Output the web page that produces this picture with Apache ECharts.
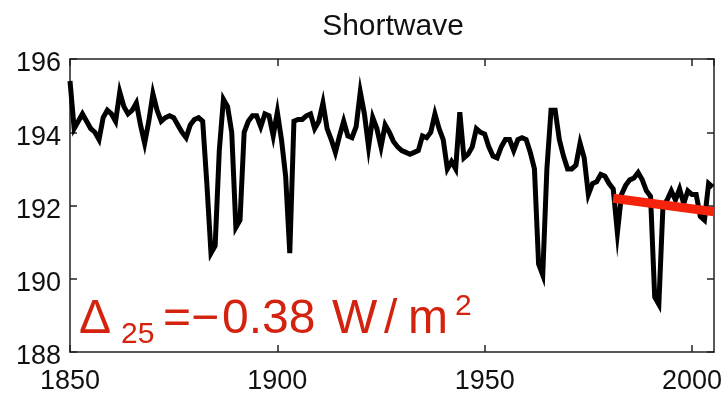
<!DOCTYPE html>
<html>
<head>
<meta charset="utf-8">
<script src="https://cdn.jsdelivr.net/npm/echarts@6/dist/echarts.min.js"></script>
<style>
html,body{margin:0;padding:0;background:#fff;}
#chart{width:727px;height:403px;}
</style>
</head>
<body>
<div id="chart"></div>
<script>
// Years 1850..2005
const startYear = 1850;
const shortwave = [
  195.4, 194.1, 194.3, 194.5, 194.3, 194.1, 194.0, 193.8, 194.4, 194.6, // 1850-1859
  194.5, 194.3, 195.1, 194.7, 194.5, 194.6, 194.8, 194.2, 193.7, 194.3, // 1860-1869
  195.05, 194.6, 194.3, 194.4, 194.45, 194.4, 194.2, 194.0, 193.85, 194.2, // 1870-1879
  194.35, 194.4, 194.3, 192.6, 190.7, 190.9, 193.5, 194.9, 194.7, 194.0, // 1880-1889
  191.4, 191.6, 194.0, 194.3, 194.45, 194.45, 194.15, 194.5, 194.45, 193.9, // 1890-1899
  194.55, 193.8, 192.8, 190.7, 194.3, 194.35, 194.35, 194.45, 194.5, 194.1, // 1900-1909
  194.3, 194.8, 194.1, 193.8, 193.45, 193.9, 194.3, 193.9, 193.85, 194.15, // 1910-1919
  195.1, 194.5, 193.6, 194.4, 194.1, 193.6, 194.2, 194.0, 193.75, 193.6, // 1920-1929
  193.5, 193.45, 193.4, 193.45, 193.5, 193.9, 193.85, 194.0, 194.5, 194.1, // 1930-1939
  193.8, 193.0, 193.2, 193.0, 194.55, 193.3, 193.4, 193.6, 194.1, 194.0, // 1940-1949
  193.95, 193.6, 193.35, 193.3, 193.6, 193.8, 193.8, 193.5, 193.8, 193.85, // 1950-1959
  193.8, 193.45, 193.0, 190.4, 190.1, 193.0, 194.6, 194.6, 193.8, 193.35, // 1960-1969
  193.0, 193.0, 193.1, 193.7, 193.3, 192.3, 192.6, 192.65, 192.85, 192.8, // 1970-1979
  192.6, 192.45, 191.25, 192.3, 192.55, 192.7, 192.75, 192.9, 192.7, 192.4, // 1980-1989
  192.25, 189.5, 189.3, 192.0, 192.15, 192.4, 192.15, 192.45, 192.05, 192.4, // 1990-1999
  192.3, 192.3, 191.7, 191.6, 192.6, 192.5                                   // 2000-2005
];
const trendYears = [1981, 2005.3];
const trendValues = [192.2, 191.83];
const xTicks = [1850, 1900, 1950, 2000];
const yTicks = [188, 190, 192, 194, 196];
const titleText = 'Shortwave';

const lineData = shortwave.map((v, i) => [startYear + i, v]);
const trendData = trendYears.map((y, i) => [y, trendValues[i]]);

const red = '#d3230f';
const font = '"Liberation Sans", Arial, Helvetica, sans-serif';

const chart = echarts.init(document.getElementById('chart'), null, {renderer: 'canvas'});

const axisLineStyle = {lineStyle: {color: '#222', width: 1.5}};
const tickStyle = {show: true, inside: true, length: 7, lineStyle: {color: '#222', width: 1.5}};

function redText(text, x, y, size) {
  return {type: 'text', x: x, y: y, silent: true,
    style: {text: text, fill: red, fontFamily: font, fontSize: size, verticalAlign: 'middle', align: 'left'}};
}

chart.setOption({
  animation: false,
  backgroundColor: '#fff',
  title: {
    text: titleText,
    left: 388,
    top: 7,
    textAlign: 'center',
    textStyle: {fontFamily: font, fontSize: 30, fontWeight: 'normal', color: '#111'}
  },
  grid: {left: 70, right: 13, top: 59, bottom: 51, show: false},
  xAxis: [
    {
      type: 'value', min: 1850, max: 2005.3, interval: 50, position: 'bottom',
      axisLine: axisLineStyle, axisTick: tickStyle, splitLine: {show: false},
      axisLabel: {
        color: '#111', fontFamily: font, fontSize: 27, margin: 16, showMaxLabel: false,
        formatter: v => xTicks.includes(v) ? String(v) : ''
      }
    },
    {
      type: 'value', min: 1850, max: 2005.3, interval: 50, position: 'top',
      axisLine: axisLineStyle, axisTick: tickStyle, splitLine: {show: false},
      axisLabel: {show: false}
    }
  ],
  yAxis: [
    {
      type: 'value', min: 188, max: 196, interval: 2, position: 'left',
      axisLine: {show: true, ...axisLineStyle}, axisTick: tickStyle, splitLine: {show: false},
      axisLabel: {
        color: '#111', fontFamily: font, fontSize: 27, margin: 9,
        verticalAlign: 'top', lineHeight: 10,
        formatter: v => yTicks.includes(v) ? String(v) : ''
      }
    },
    {
      type: 'value', min: 188, max: 196, interval: 2, position: 'right',
      axisLine: {show: true, ...axisLineStyle}, axisTick: tickStyle, splitLine: {show: false},
      axisLabel: {show: false}
    }
  ],
  series: [
    {
      type: 'line', data: lineData, xAxisIndex: 0, yAxisIndex: 0,
      showSymbol: false, symbol: 'none', clip: true,
      lineStyle: {color: '#000', width: 5, join: 'miter'}, z: 2
    },
    {
      type: 'line', data: trendData, xAxisIndex: 0, yAxisIndex: 0,
      showSymbol: false, symbol: 'none', clip: true,
      lineStyle: {color: '#f5230c', width: 9, cap: 'butt'}, z: 3
    }
  ],
  graphic: [
    redText('Δ', 79, 320, 48),
    redText('25', 121, 335, 30),
    redText('=−', 163, 320, 48),
    redText('0.38', 222, 320, 48),
    redText('W', 332, 320, 48),
    redText('/', 384, 320, 48),
    redText('m', 408, 320, 48),
    redText('2', 455, 307, 30)
  ]
});
</script>
</body>
</html>
